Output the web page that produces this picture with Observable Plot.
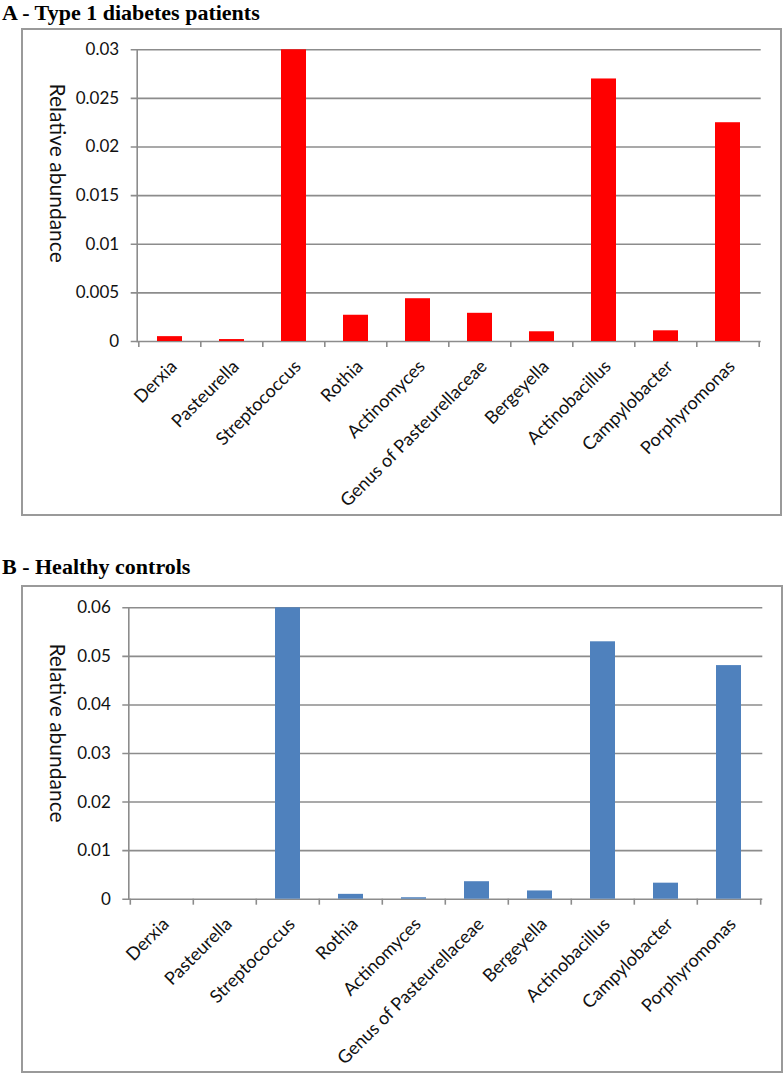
<!DOCTYPE html>
<html><head><meta charset="utf-8">
<script src="https://cdn.jsdelivr.net/npm/d3@7"></script>
<script src="https://cdn.jsdelivr.net/npm/@observablehq/plot@0.6"></script>
<style>
body{margin:0;background:#fff;}
#page{position:relative;width:784px;height:1074px;overflow:hidden;background:#fff;}
.title{position:absolute;left:2px;font-family:"Liberation Serif","Times New Roman",serif;font-weight:bold;font-size:22px;line-height:22px;color:#000;white-space:nowrap;}
.box{position:absolute;border:2px solid #9a9a9a;background:#fff;}
.box svg{display:block;}
</style></head><body><div id="page">
<div class="title" style="top:1.5px">A - Type 1 diabetes patients</div>
<div class="box" id="boxA" style="left:21px;top:28px;width:757px;height:484px"></div>
<div class="title" style="top:556px">B - Healthy controls</div>
<div class="box" id="boxB" style="left:21px;top:585px;width:758px;height:484px"></div>
</div>
<script>
const genera = ["Derxia","Pasteurella","Streptococcus","Rothia","Actinomyces","Genus of Pasteurellaceae","Bergeyella","Actinobacillus","Campylobacter","Porphyromonas"];
const t1dAbundance = [0.0005, 0.0002, 0.030, 0.0027, 0.0044, 0.0029, 0.0010, 0.0270, 0.0011, 0.0225];
const healthyAbundance = [0, 0, 0.060, 0.0010, 0.0003, 0.0036, 0.0017, 0.0530, 0.0033, 0.0481];
const t1dTicks = [0, 0.005, 0.01, 0.015, 0.02, 0.025, 0.03];
const healthyTicks = [0, 0.01, 0.02, 0.03, 0.04, 0.05, 0.06];
const yLabel = "Relative abundance";

function panel({values, ticks, color, width, height, ml, mr, mt, mb, labelDx, labelDy}) {
  const data = genera.map((g, i) => ({genus: g, value: values[i]}));
  const step = (width - ml - mr) / genera.length;
  const grid = "#8c8c8c";
  const last = genera[genera.length - 1];
  return Plot.plot({
    width, height,
    marginLeft: ml, marginRight: mr, marginTop: mt, marginBottom: mb,
    style: {fontFamily: "Lato, sans-serif", background: "white", color: "#111", overflow: "visible"},
    x: {type: "band", domain: genera, paddingInner: 0.6, paddingOuter: 0.3, axis: null},
    y: {domain: [ticks[0], ticks[ticks.length - 1]], nice: false, axis: null},
    marks: [
      Plot.ruleY(ticks, {stroke: grid, strokeWidth: 1.6, insetLeft: -6}),
      Plot.frame({anchor: "left", stroke: grid, strokeWidth: 1.6}),
      Plot.ruleX(genera, {x: d => d, y1: 0, y2: 0, insetBottom: -6, dx: -step / 2, stroke: grid, strokeWidth: 1.6}),
      Plot.ruleX([last], {x: d => d, y1: 0, y2: 0, insetBottom: -6, dx: step / 2, stroke: grid, strokeWidth: 1.6}),
      Plot.barY(data, {x: "genus", y: "value", fill: color}),
      Plot.axisY(ticks, {tickSize: 0, tickPadding: 18, fontSize: 17, label: null, fill: "#111", tickFormat: d => String(d)}),
      Plot.text(genera, {x: d => d, y: 0, text: d => d, rotate: -45, textAnchor: "end", lineAnchor: "middle", dx: 4, dy: 22, fontSize: 18, fill: "#111"}),
      Plot.text([yLabel], {frameAnchor: "left", text: d => d, rotate: 90, textAnchor: "middle", lineAnchor: "middle", dx: labelDx, dy: labelDy, fontSize: 21, fill: "#111"})
    ]
  });
}

document.getElementById("boxA").appendChild(panel({
  values: t1dAbundance, ticks: t1dTicks, color: "#ff0000",
  width: 757, height: 484, ml: 113.7, mr: 19.3, mt: 19.3, mb: 173,
  labelDx: -80, labelDy: -22.5
}));
document.getElementById("boxB").appendChild(panel({
  values: healthyAbundance, ticks: healthyTicks, color: "#4f81bd",
  width: 758, height: 484, ml: 105.3, mr: 18.7, mt: 20.3, mb: 172.3,
  labelDx: -72.3, labelDy: -20.5
}));
</script>
</body></html>
